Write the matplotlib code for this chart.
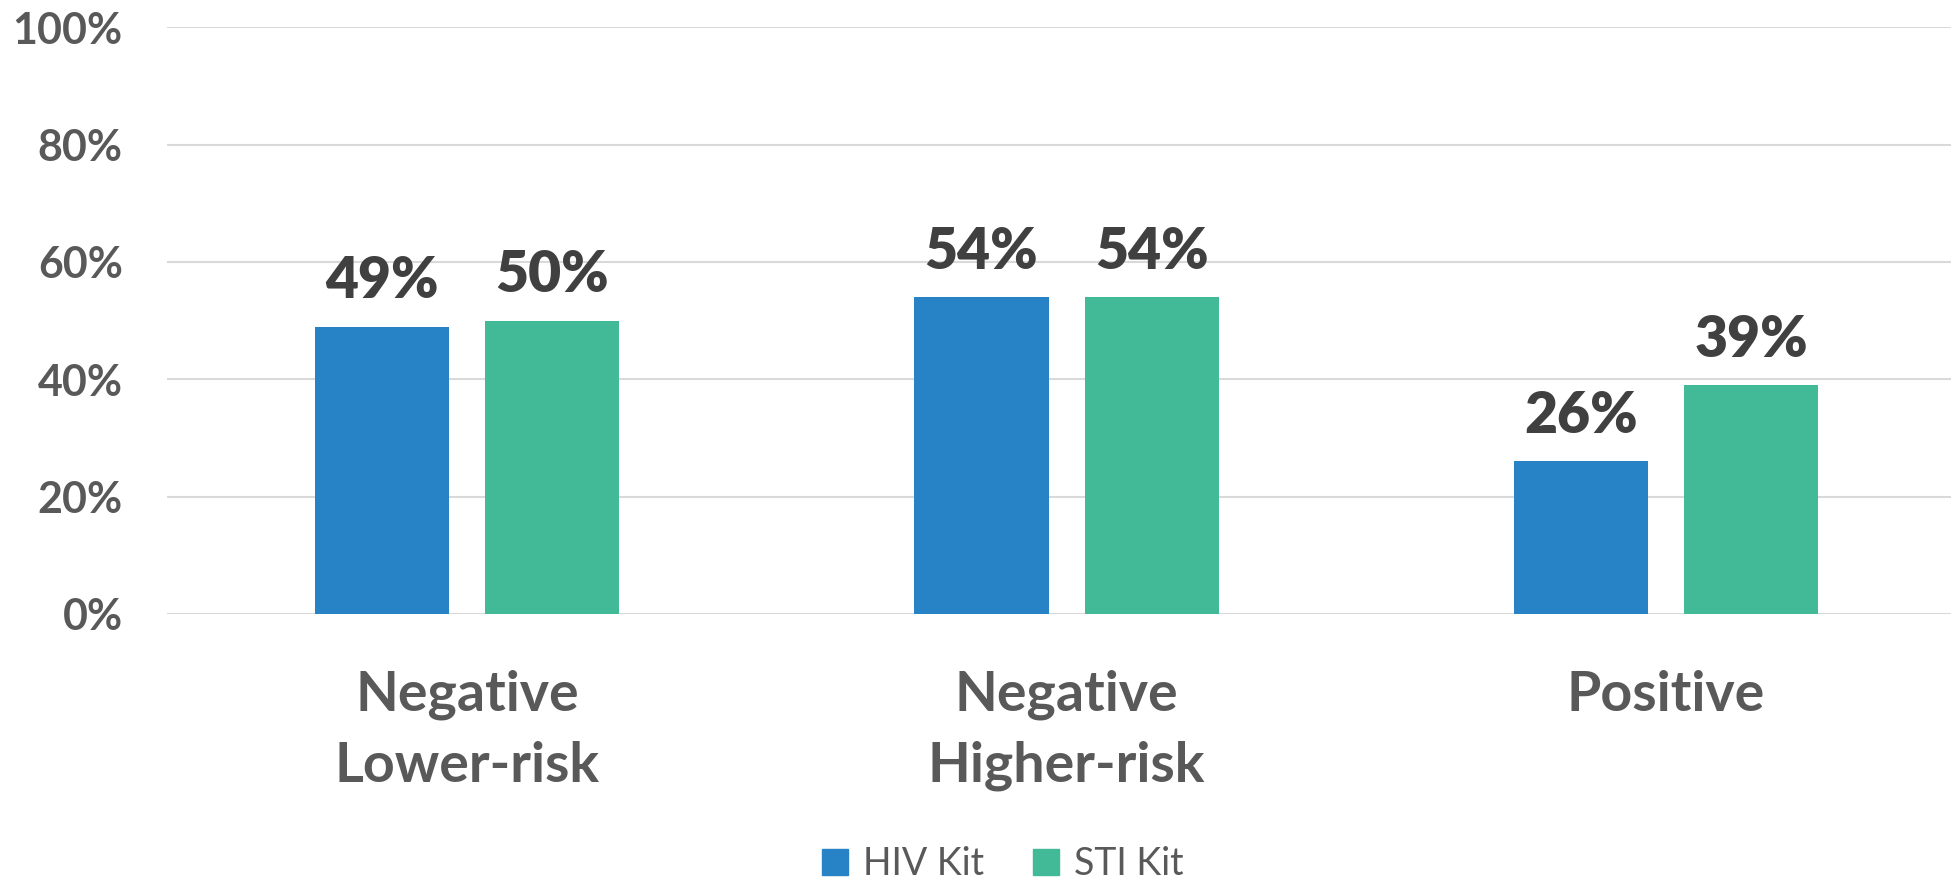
import matplotlib
matplotlib.use("Agg")
import matplotlib.pyplot as plt
from matplotlib.patches import Patch
import numpy as np

plt.rcParams['font.family'] = ['Lato', 'DejaVu Sans']

# data
categories = ['Negative\nLower-risk', 'Negative\nHigher-risk', 'Positive']
hiv_kit = [49, 54, 26]
sti_kit = [50, 54, 39]
series_names = ['HIV Kit', 'STI Kit']
yticks = [0, 20, 40, 60, 80, 100]

blue = '#2782C6'
green = '#43BA97'
grid_col = '#D9D9D9'
tick_col = '#595959'
label_col = '#404040'

W, H = 1951, 883
fig = plt.figure(figsize=(W / 100, H / 100), dpi=100)
# plot area runs off the right edge of the picture, like the original crop
left, right = 167.3, 167.3 + 3 * 599.5
bottom, top = 614, 27.3
ax = fig.add_axes([left / W, (H - bottom) / H, (right - left) / W, (bottom - top) / H])

x = np.arange(len(categories))
bw = 0.224
off = 0.142
b1 = ax.bar(x - off, hiv_kit, bw, color=blue, zorder=3)
b2 = ax.bar(x + off, sti_kit, bw, color=green, zorder=3)

for bars in (b1, b2):
    ax.bar_label(bars, labels=[f'{v}%' for v in bars.datavalues], padding=14,
                 fontsize=41, fontweight='heavy', color=label_col)

ax.set_xlim(-0.5, 2.5)
ax.set_ylim(0, 100)
ax.set_yticks(yticks)
ax.set_yticklabels([f'{t}%' for t in yticks], fontsize=31, fontweight='bold', color=tick_col)
ax.set_xticks(x)
ax.set_xticklabels(categories, fontsize=40, fontweight='bold', color=tick_col, linespacing=1.5)
ax.tick_params(axis='y', length=0, pad=32)
ax.tick_params(axis='x', length=0, pad=40)
ax.grid(axis='y', color=grid_col, linewidth=1.5, zorder=0)
ax.set_axisbelow(True)
for s in ax.spines.values():
    s.set_visible(False)

handles = [Patch(color=blue), Patch(color=green)]
fig.legend(handles, series_names, loc='center', bbox_to_anchor=(1003 / W, (H - 864) / H),
           ncol=2, frameon=False, fontsize=27, handlelength=0.7, handleheight=0.7,
           handletextpad=0.4, columnspacing=1.3, labelcolor=tick_col)

fig.savefig('out.png', dpi=100)
